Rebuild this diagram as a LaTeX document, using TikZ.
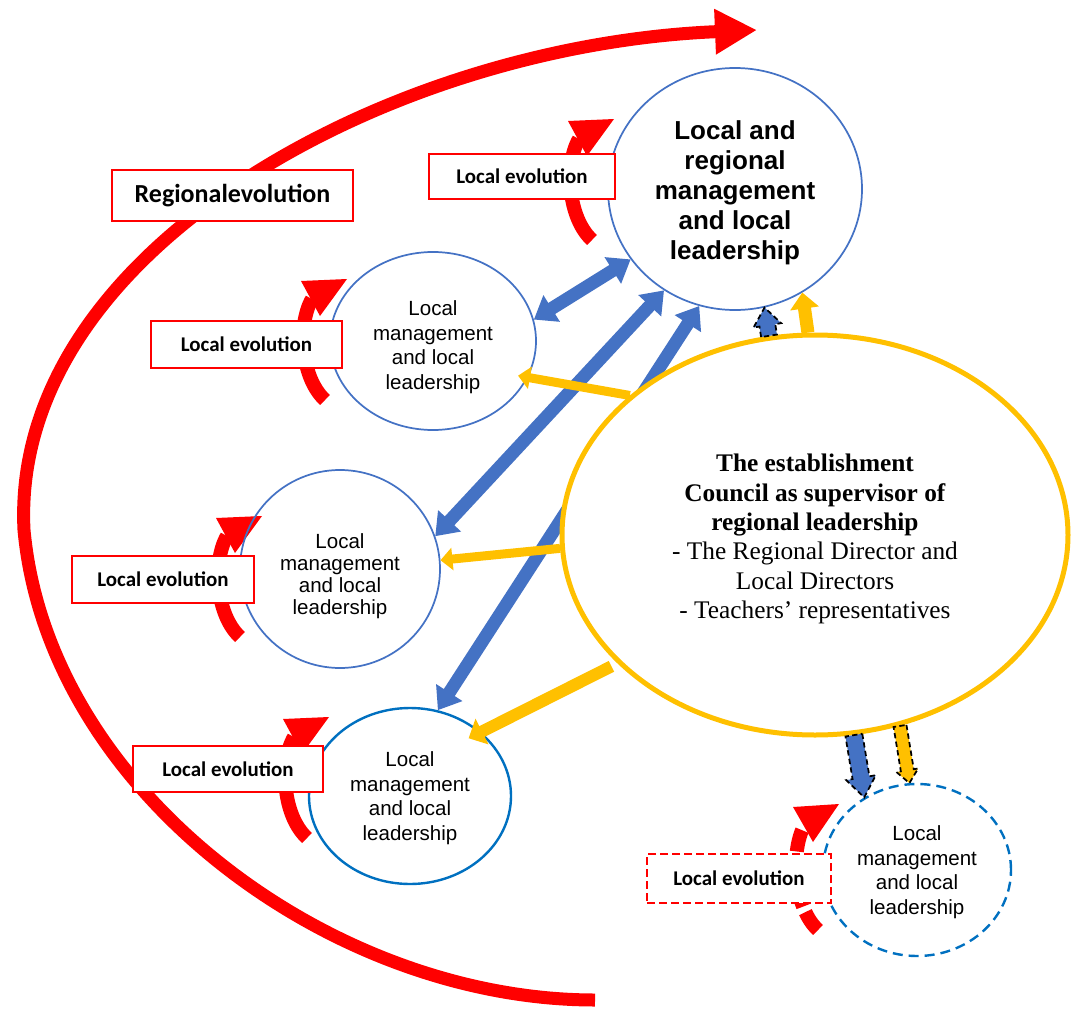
\documentclass[tikz,border=0pt]{standalone}
\usepackage{fontspec}
\usetikzlibrary{arrows.meta,calc,shapes.geometric}
\newfontfamily\carlito{Carlito}
\newfontfamily\arialf{Liberation Sans}
\newfontfamily\tnr{Liberation Serif}
\definecolor{ured}{HTML}{FF0000}
\definecolor{ublue}{HTML}{4472C4}
\definecolor{ublueb}{HTML}{0070C0}
\definecolor{uyel}{HTML}{FFC000}
\pgfdeclarelayer{bg}
\pgfsetlayers{bg,main}
\newcommand\blockarrow[6]{%
  \path #2 coordinate (ba-t) #3 coordinate (ba-p);
  \path ($(ba-p)!#6!(ba-t)$) coordinate (ba-h);
  \path[#1] ($(ba-t)!#4!90:(ba-p)$) -- ($(ba-h)!#4!-90:(ba-t)$) -- ($(ba-h)!#5!-90:(ba-t)$) -- (ba-p)
     -- ($(ba-h)!#5!90:(ba-t)$) -- ($(ba-h)!#4!90:(ba-t)$) -- ($(ba-t)!#4!-90:(ba-p)$) -- cycle;
}
\tikzset{
  evbox/.style={draw=ured, line width=1.1pt, fill=white, inner sep=0pt,
    font=\carlito\bfseries\fontsize{15.7pt}{18pt}\selectfont},
  regbox/.style={evbox, font=\carlito\bfseries\fontsize{19.5pt}{22pt}\selectfont},
  lmc/.style={ellipse, draw=ublue, line width=1.3pt, inner sep=0pt},
  lmtext/.style={inner sep=0pt, align=center, font=\arialf\fontsize{15.4pt}{18.4pt}\selectfont},
  toptext/.style={inner sep=0pt, align=center, font=\arialf\bfseries\fontsize{19.5pt}{22.5pt}\selectfont},
  yelnode/.style={ellipse, draw=uyel, line width=3.75pt, fill=white, inner sep=0pt},
  yeltext/.style={inner sep=0pt, align=center, font=\tnr\fontsize{19pt}{22pt}\selectfont},
  bdarrow/.style={draw=ublue, line width=9.75pt,
    {Triangle[length=15.75pt,width=22.5pt]}-{Triangle[length=15.75pt,width=22.5pt]}},
  yarrow/.style={draw=uyel, line width=6.75pt, -{Triangle[length=9pt,width=16.5pt]}},
  dashout/.style={draw=black, line width=1.3pt, dash pattern=on 4pt off 2.5pt},
  levarrow/.pic={
    \fill[ured] (-24,-119) -- (22,-121) -- (-5,-84) -- cycle;
    \draw[ured, line width=10.5pt] (0,0) .. controls (-24,-22) and (-28,-75) .. (-13,-101);
  },
  levarrowd/.pic={
    \fill[ured] (-25,-123) -- (21,-126) -- (-5,-88) -- cycle;
    \draw[ured, line width=10.5pt, dash pattern=on 16.5pt off 4.5pt] (0,0) .. controls (-24,-22) and (-28,-77) .. (-14,-104);
  }
}
\begin{document}
\begin{tikzpicture}[x=0.75pt,y=-0.75pt]
\useasboundingbox (0,0) rectangle (1072,1010);

% circles (shapes) and their texts
\node[lmc, minimum width=190.5pt, minimum height=181.5pt] (top) at (735,189) {};
\node[toptext] (topt) at (735,193) {Local and\\regional\\management\\and local\\leadership};
\node[lmc, minimum width=154.5pt, minimum height=133.5pt] (c2) at (433,341) {};
\node[lmtext] (c2t) at (433,347) {Local\\management\\and local\\leadership};
\node[lmc, minimum width=150pt, minimum height=148.5pt] (c3) at (340,569) {};
\node[lmtext, font=\arialf\fontsize{15.4pt}{16.6pt}\selectfont] (c3t) at (340,576) {Local\\management\\and local\\leadership};
\node[lmc, draw=ublueb, line width=1.8pt, minimum width=151.5pt, minimum height=132pt] (c4) at (410,796) {};
\node[lmtext] (c4t) at (410,798) {Local\\management\\and local\\leadership};
\node[lmc, draw=ublueb, line width=1.8pt, dash pattern=on 7.5pt off 4.5pt, minimum width=141pt, minimum height=129pt] (c5) at (917,870) {};
\node[lmtext] (c5t) at (917,872) {Local\\management\\and local\\leadership};
\node[yelnode, minimum width=379.5pt, minimum height=300pt] (yel) at (815,535) {};
\node[yeltext] (yelt) at (815,539)
  {\textbf{The establishment}\\\textbf{Council as supervisor of}\\\textbf{regional leadership}\\- The Regional Director and\\Local Directors\\- Teachers’ representatives};

% boxes
\node[evbox, minimum width=139.5pt, minimum height=33.75pt] (e1) at (522,176.5) {Local evolution};
\node[evbox, minimum width=143.25pt, minimum height=35.25pt] (e2) at (246.5,344.5) {Local evolution};
\node[evbox, minimum width=136.5pt, minimum height=35.25pt] (e3) at (163,579.5) {Local evolution};
\node[evbox, minimum width=142.5pt, minimum height=34.5pt] (e4) at (228,769) {Local evolution};
\node[evbox, dash pattern=on 6pt off 3pt, minimum width=138pt, minimum height=36.75pt] (e5) at (739,878.5) {Local evolution};
\node[regbox, minimum width=180.75pt, minimum height=38.25pt] (reg) at (232.5,195.5) {Regionalevolution};

\begin{pgfonlayer}{bg}
  % big regional arc
  \draw[ured, line width=9.75pt, -{Triangle[length=31.5pt,width=32pt]}]
    (595,1000) .. controls (330,1000) and (48,790) .. (24,530)
    .. controls (10,250) and (390,45) .. (757,30);
  % local evolution arrows
  \pic at (592,240) {levarrow};
  \pic at (325,400) {levarrow};
  \pic at (240,637) {levarrow};
  \pic at (307,838) {levarrow};
  \pic at (818,930) {levarrowd};
  % blue double arrows
  \draw[bdarrow] (c2.12) -- (top.214);
  \draw[bdarrow] (top.235) -- (c3.19);
  \draw[bdarrow] (top.253) -- (c4.72);
\end{pgfonlayer}

% yellow arrows
\draw[yarrow, shorten >=-7.5pt] (yel.143) -- (c2.339);
\draw[yarrow] (yel.183) -- (c3.5);
\draw[yarrow, line width=9pt, -{Triangle[length=11.25pt,width=21pt]}, shorten <=5pt, shorten >=-10.5pt] (yel.213) -- (c4.42);

% block arrows
\blockarrow{fill=ublue, dashout}{(yel.103)}{(top.284)}{6pt}{10.5pt}{13.5pt}
\blockarrow{fill=uyel}{(yel.92)}{(top.303)}{4.9pt}{10.9pt}{12pt}
\blockarrow{fill=ublue, dashout}{(yel.281)}{(c5.126)}{6.4pt}{11.25pt}{15pt}
\blockarrow{fill=uyel, dashout}{(yel.294)}{(c5.95)}{4.9pt}{8.25pt}{9.75pt}
\end{tikzpicture}
\end{document}
